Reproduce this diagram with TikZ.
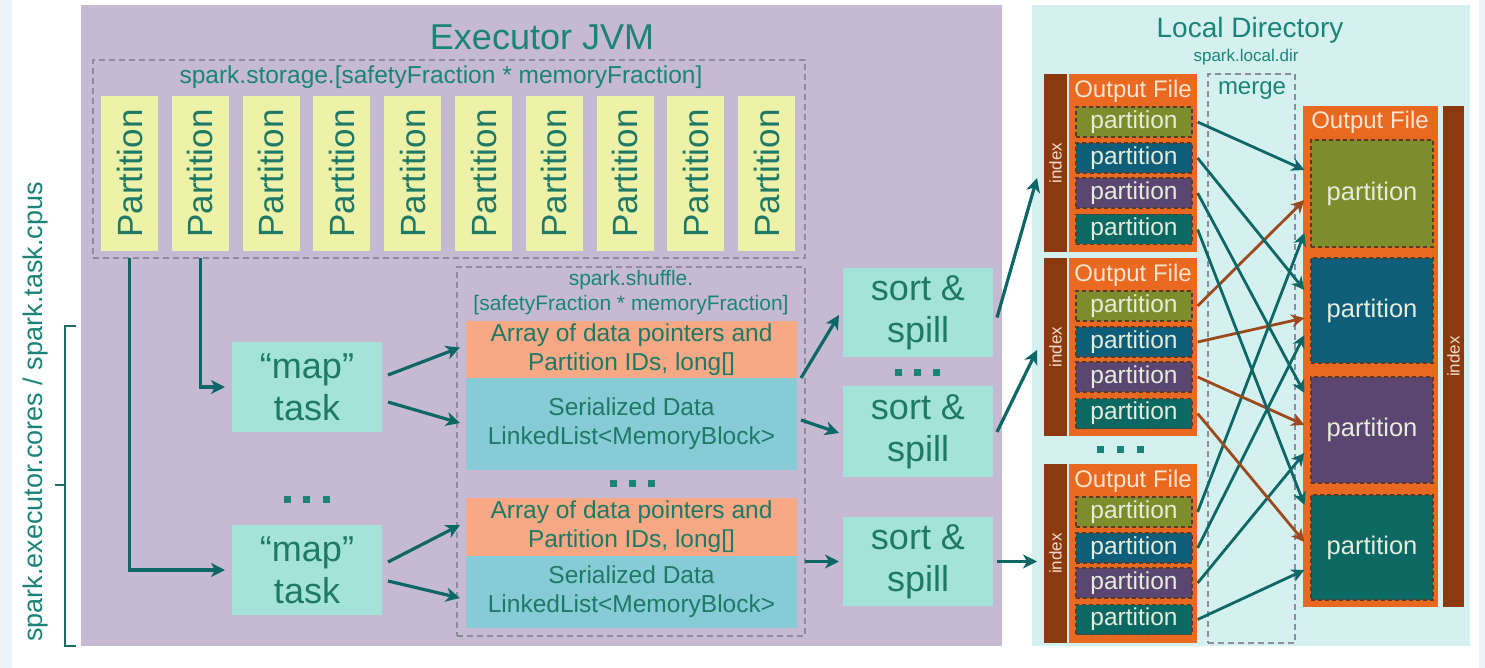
\documentclass[tikz,border=0pt]{standalone}
\usepackage{fontspec}
\setmainfont{Liberation Sans}
\usetikzlibrary{arrows.meta,calc}
\definecolor{jvm}{HTML}{C5BAD2}
\definecolor{ttl}{HTML}{1B8479}
\definecolor{ptxt}{HTML}{1E7A66}
\definecolor{pyel}{HTML}{EEF1A8}
\definecolor{mint}{HTML}{A3E3DA}
\definecolor{salmon}{HTML}{F6A984}
\definecolor{skyb}{HTML}{86CBD6}
\definecolor{ldir}{HTML}{D5F1EF}
\definecolor{ofile}{HTML}{E8691F}
\definecolor{idx}{HTML}{8B3A10}
\definecolor{polive}{HTML}{7E8D2B}
\definecolor{pblue}{HTML}{0F5E79}
\definecolor{ppurple}{HTML}{5B4672}
\definecolor{pteal}{HTML}{0B6863}
\definecolor{arrteal}{HTML}{0E6767}
\definecolor{arrbrown}{HTML}{9C4A1D}
\definecolor{dashg}{HTML}{8C8C9C}
\definecolor{dashdark}{HTML}{5A3A2A}
\definecolor{ofiletxt}{HTML}{FDE4D0}
\definecolor{lighttxt}{HTML}{E6EDDA}
\definecolor{idxtxt}{HTML}{F2DCCB}
\definecolor{strip}{HTML}{EEF2F9}
\definecolor{brk}{HTML}{1F6B65}
\newcommand\fsz[2]{\fontsize{#1}{#2}\selectfont}
\begin{document}
\begin{tikzpicture}[x=1pt,y=-1pt,
  box/.style={inner sep=0pt, outer sep=0pt, anchor=north west},
  dashbox/.style={box, draw=dashg, dash pattern=on 6pt off 4pt, line width=1.2pt},
  part/.style={fill=pyel, rotate=90, minimum width=155pt, minimum height=57pt, inner sep=0pt, text=ptxt, font=\fsz{35}{42}},
  lbl/.style={text=ttl, font=\fsz{21}{25}, inner sep=0pt, align=center},
  mintbox/.style={box, fill=mint, minimum width=150pt, text=ptxt, font=\fsz{36}{42}, align=center},
  membox/.style={box, minimum width=331pt, text=ptxt, font=\fsz{24.5}{29}, align=center},
  dotsq/.style={fill=ttl, minimum size=7pt, inner sep=0pt},
  idxbar/.style={box, fill=idx},
  idxlbl/.style={rotate=90, text=idxtxt, font=\fsz{17}{20}, inner sep=0pt},
  ofbox/.style={box, fill=ofile},
  oflbl/.style={text=ofiletxt, font=\fsz{24}{28}, inner sep=0pt},
  spart/.style={draw=dashdark, dash pattern=on 4pt off 3pt, line width=1.2pt, minimum width=116pt, minimum height=30pt, inner sep=0pt, text=lighttxt, font=\fsz{24.5}{26}},
  bpart/.style={draw=dashdark, dash pattern=on 4pt off 3pt, line width=1.2pt, minimum width=122pt, inner sep=0pt, text=lighttxt, font=\fsz{25.5}{28}},
  arr/.style={draw=arrteal, color=arrteal, line width=3.2pt, -{Stealth[length=14pt,width=14pt,inset=4pt]}},
  marr/.style={line width=2.8pt, -{Stealth[length=13pt,width=13pt,inset=4pt]}}
]
\useasboundingbox (0,0) rectangle (1485,668);
\fill[white] (0,0) rectangle (1485,668);
\fill[strip] (0,0) rectangle (12,668);
\fill[strip] (1479,0) rectangle (1485,668);

% Executor JVM
\node[box, fill=jvm, minimum width=921pt, minimum height=641pt] (jvm) at (81,5) {};
\node[text=ttl, font=\fsz{36}{40}, inner sep=0pt] (jvmtitle) at (542,37) {Executor JVM};

% storage
\node[dashbox, minimum width=712pt, minimum height=198pt] (storage) at (93,60) {};
\node[lbl, font=\fsz{24.5}{28}] (storlbl) at (441,77) {spark.storage.[safetyFraction * memoryFraction]};
\foreach \i in {0,...,9} \node[part] (p\i) at ({129.5+70.8*\i},173.5) {Partition};

% shuffle
\node[dashbox, minimum width=348pt, minimum height=369pt] (shuffle) at (457,267) {};
\node[lbl] (shuflbl) at (631,293) {spark.shuffle.\\{[}safetyFraction * memoryFraction]};
\node[membox, fill=salmon, minimum height=57pt] (arr1) at (466,321) {Array of data pointers and\\Partition IDs, long[]};
\node[membox, fill=skyb, minimum height=92pt] (ser1) at (466,378) {Serialized Data\\LinkedList<MemoryBlock>};
\node[membox, fill=salmon, minimum height=58pt] (arr2) at (466,498) {Array of data pointers and\\Partition IDs, long[]};
\node[membox, fill=skyb, minimum height=72pt] (ser2) at (466,556) {Serialized Data\\LinkedList<MemoryBlock>};
\node[dotsq] (ds1) at (613,483) {};
\node[dotsq] (ds2) at (632,483) {};
\node[dotsq] (ds3) at (651,483) {};

% map tasks
\node[mintbox, minimum height=90pt] (map1) at (232,342) {“map”\\task};
\node[mintbox, minimum height=90pt] (map2) at (232,525) {“map”\\task};
\node[dotsq] (dm1) at (287,499) {};
\node[dotsq] (dm2) at (306,499) {};
\node[dotsq] (dm3) at (326,499) {};

% sort & spill
\node[mintbox, minimum height=89pt] (sort1) at (843,268) {sort \&\\spill};
\node[mintbox, minimum height=91pt] (sort2) at (843,386) {sort \&\\spill};
\node[mintbox, minimum height=89pt] (sort3) at (843,517) {sort \&\\spill};
\node[dotsq] (dsp1) at (898,372) {};
\node[dotsq] (dsp2) at (917,372) {};
\node[dotsq] (dsp3) at (936,372) {};

% left label and bracket
\node[rotate=90, text=ttl, font=\fsz{27}{32}, inner sep=0pt] (leftlbl) at (36,412) {spark.executor.cores / spark.task.cpus};
\draw[brk, line width=2.5pt] (76,326) -- (65,326) -- (65,646) -- (76,646);
\draw[brk, line width=2.5pt] (65,485) -- (55,485);

% Local directory
\node[box, fill=ldir, minimum width=438pt, minimum height=641pt] (ldir) at (1032,5) {};
\node[text=ttl, font=\fsz{28}{32}, inner sep=0pt] (ldtitle) at (1250,30) {Local Directory};
\node[text=ttl, font=\fsz{17}{20}, inner sep=0pt] (ldsub) at (1246,57) {spark.local.dir};
\node[dashbox, minimum width=87pt, minimum height=569pt] (merge) at (1208,74) {};
\node[text=ttl, font=\fsz{24}{28}, inner sep=0pt] (mergelbl) at (1252,91) {merge};

% index bars and output files (left)
\node[idxbar, minimum width=23pt, minimum height=178pt] (idx1) at (1044,74) {};
\node[idxbar, minimum width=23pt, minimum height=178pt] (idx2) at (1044,258) {};
\node[idxbar, minimum width=23pt, minimum height=179pt] (idx3) at (1044,464) {};
\node[idxlbl] (idx1t) at (idx1.center) {index};
\node[idxlbl] (idx2t) at (idx2.center) {index};
\node[idxlbl] (idx3t) at (idx3.center) {index};
\node[ofbox, minimum width=128pt, minimum height=178pt] (of1) at (1069,74) {};
\node[ofbox, minimum width=128pt, minimum height=178pt] (of2) at (1069,258) {};
\node[ofbox, minimum width=128pt, minimum height=179pt] (of3) at (1069,464) {};
\foreach \k/\t in {1/74,2/258,3/464}{
  \node[oflbl] (of\k t) at (1133,\t+17) {Output File};
  \node[spart, fill=polive] (b\k p1) at (1134,\t+48) {partition};
  \node[spart, fill=pblue] (b\k p2) at (1134,\t+84) {partition};
  \node[spart, fill=ppurple] (b\k p3) at (1134,\t+119) {partition};
  \node[spart, fill=pteal] (b\k p4) at (1134,\t+155.5) {partition};
}
\node[dotsq] (do1) at (1100,449) {};
\node[dotsq] (do2) at (1120,449) {};
\node[dotsq] (do3) at (1140,449) {};

% merged output file (right)
\node[ofbox, minimum width=135pt, minimum height=501pt] (ofb) at (1303,106) {};
\node[oflbl] (ofbt) at (1370,122) {Output File};
\node[bpart, fill=polive, minimum height=107pt] (B1) at (1372,193.5) {partition};
\node[bpart, fill=pblue, minimum height=105pt] (B2) at (1372,310.5) {partition};
\node[bpart, fill=ppurple, minimum height=106pt] (B3) at (1372,430) {partition};
\node[bpart, fill=pteal, minimum height=105pt] (B4) at (1372,547.5) {partition};
\node[idxbar, minimum width=21pt, minimum height=501pt] (idx4) at (1443,106) {};
\node[idxlbl] (idx4t) at (idx4.center) {index};

% arrows in executor
\draw[arr] (p0 |- storage.south) -- (p0 |- map2.west) -- ([xshift=-7pt]map2.west);
\draw[arr] (p1 |- storage.south) -- (p1 |- map1.west) -- ([xshift=-7pt]map1.west);
\draw[arr] ($(map1.east)+(6,-12)$) -- ($(arr1.west)+(-6,-2)$);
\draw[arr] ($(map1.east)+(6,15)$) -- ($(ser1.west)+(-6,-1)$);
\draw[arr] ($(map2.east)+(6,-8)$) -- ($(arr2.west)+(-6,-2)$);
\draw[arr] ($(map2.east)+(6,11)$) -- ($(ser2.west)+(-6,6)$);
\draw[arr] ($(arr1.south east)+(4,0)$) -- ($(sort1.west)+(-4,2.5)$);
\draw[arr] ($(ser1.east)+(4,-4)$) -- ($(sort2.west)+(-4,1.5)$);
\draw[arr, shorten >=4pt] (shuffle.east |- sort3.west) -- (sort3.west);
\draw[arr] ($(sort1.east)+(4,5)$) -- ($(idx1.west)+(-7,15)$);
\draw[arr] ($(sort2.east)+(4,0.5)$) -- ($(idx2.west)+(-7,3)$);
\draw[arr, shorten <=4pt, shorten >=7pt] (sort3.east) -- (sort3.east -| idx3.west);

% merge arrows
\foreach \s/\d/\dy/\c in {b1p1/B1/-23.5/arrteal, b2p1/B1/6.5/arrbrown, b3p1/B1/39.5/arrteal,
  b1p2/B2/-20.5/arrteal, b2p2/B2/7.5/arrbrown, b3p2/B2/24.5/arrteal,
  b1p3/B3/-37/arrteal, b2p3/B3/-5/arrbrown, b3p3/B3/23/arrteal,
  b1p4/B4/-42.5/arrteal, b2p4/B4/-5.5/arrbrown, b3p4/B4/22.5/arrteal}
  \draw[marr, color=\c] ($(\s.east)+(5,0)$) -- ($(\d.west)+(-6,\dy)$);
\end{tikzpicture}
\end{document}
